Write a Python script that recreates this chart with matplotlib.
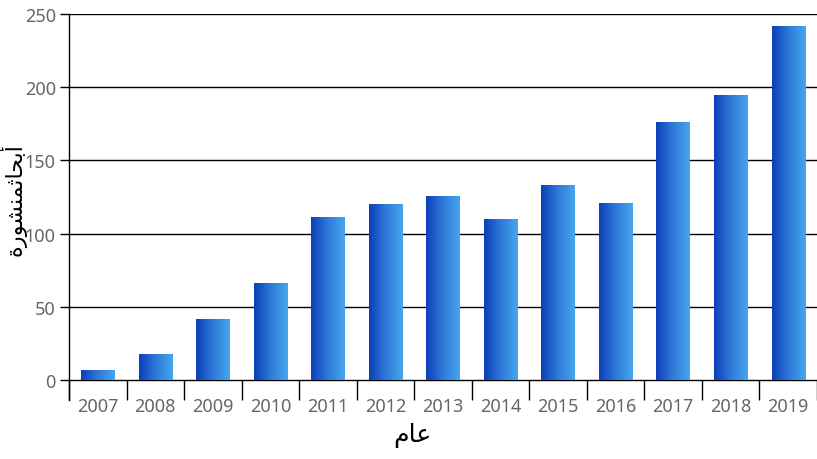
import numpy as np
import matplotlib
matplotlib.use("Agg")
import matplotlib.pyplot as plt
from matplotlib.colors import LinearSegmentedColormap

# data
years = ["2007", "2008", "2009", "2010", "2011", "2012", "2013",
         "2014", "2015", "2016", "2017", "2018", "2019"]
papers = [7, 18, 42, 66, 111, 120, 126, 110, 133, 121, 176, 195, 242]

# Arabic labels written in presentation forms (visual order) since matplotlib has no shaping
x_label = "\uFEE1\uFE8E\uFECB"  # عام
y_label = "\uFE93\uFEAD\uFEEE\uFEB8\uFEE8\uFEE4\uFE9B\uFE8E\uFEA4\uFE91\uFE83"  # أبحاث منشورة

grad = LinearSegmentedColormap.from_list("bars", ["#0b3fb8", "#2f7ad8", "#46a6ee"])

W, H = 817, 460
fig = plt.figure(figsize=(W / 100, H / 100), dpi=100)
ax = fig.add_axes([69 / W, (H - 401) / H, 1 - 69 / W, (401 - 15) / H])

x = np.arange(len(years))
bars = ax.bar(x, papers, width=0.58, color="none", zorder=3)

# horizontal gradient fill, clipped to each bar
g = np.linspace(0, 1, 256).reshape(1, -1)
for b in bars:
    x0, y0 = b.get_x(), b.get_y()
    im = ax.imshow(g, cmap=grad, aspect="auto", zorder=3,
                   extent=[x0, x0 + b.get_width(), y0, y0 + b.get_height()])
    im.set_clip_path(b)

ax.set_xlim(-0.5, len(years) - 0.5)
ax.set_ylim(-13.66, 250)

for s in ["top", "right", "bottom"]:
    ax.spines[s].set_visible(False)
ax.spines["left"].set_linewidth(1)

ax.set_yticks([0, 50, 100, 150, 200, 250])
ax.yaxis.grid(True, color="black", linewidth=1, zorder=1)
ax.set_axisbelow(True)
ax.tick_params(axis="y", length=6.5, width=1, colors="black",
               labelcolor="#666666", labelsize=13, pad=3)

# category boundaries as long ticks, year labels centred between them
ax.spines["bottom"].set_position(("data", 0))
ax.set_xticks(np.arange(-0.5, len(years), 1))
ax.set_xticklabels([])
ax.set_xticks(x, minor=True)
ax.set_xticklabels(years, minor=True)
ax.tick_params(axis="x", which="major", length=14.4, width=1, direction="out")
ax.tick_params(axis="x", which="minor", length=0, labelcolor="#666666",
               labelsize=13, pad=12)

for lab in ax.get_xticklabels(minor=True) + ax.get_yticklabels():
    lab.set_family(["Noto Sans", "DejaVu Sans"])

fig.text(412 / W, 1 - 436 / H, x_label, ha="center", va="center",
         fontsize=18, family=["DejaVu Sans"])
fig.text(13 / W, 1 - 200 / H, y_label, ha="center", va="center",
         rotation=90, fontsize=16, family=["DejaVu Sans"])

fig.savefig("out.png", dpi=100)
